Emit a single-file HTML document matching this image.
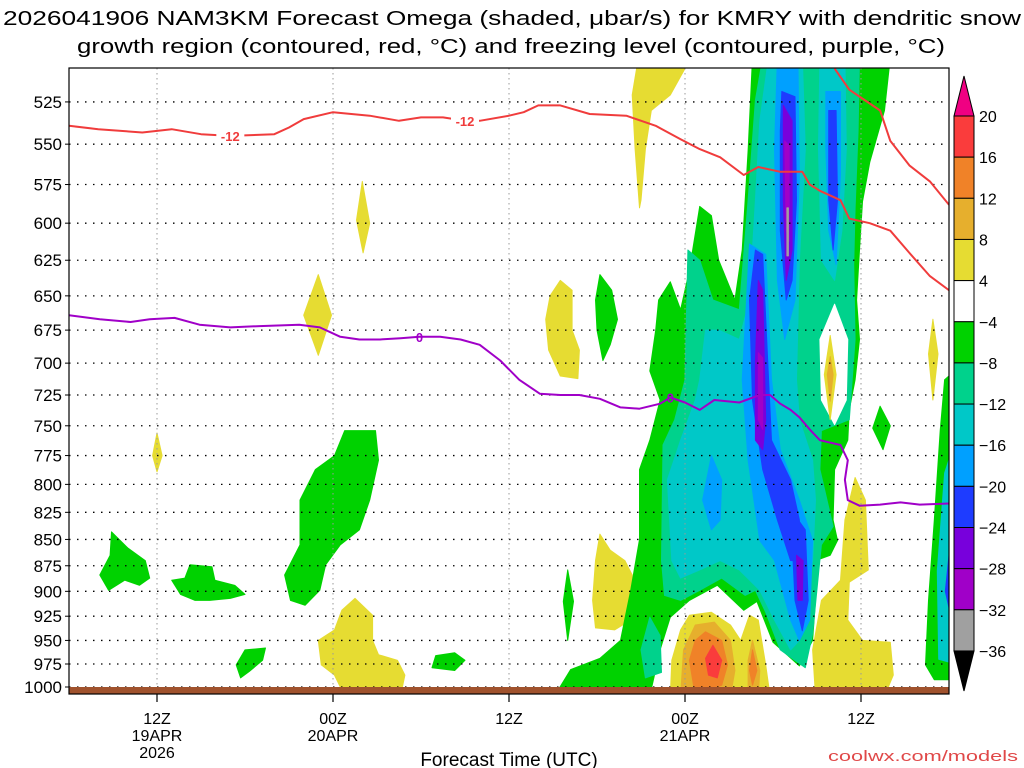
<!DOCTYPE html>
<html><head><meta charset="utf-8"><style>
html,body{margin:0;padding:0;background:#fff;}
svg{display:block;font-family:"Liberation Sans",sans-serif;}
</style></head><body>
<svg id="chart" width="1024" height="768" viewBox="0 0 1024 768" xmlns="http://www.w3.org/2000/svg">
<rect x="0" y="0" width="1024" height="768" fill="#fff"/>
<text x="512" y="25" text-anchor="middle" font-size="20" textLength="1018" lengthAdjust="spacingAndGlyphs">2026041906 NAM3KM Forecast Omega (shaded, μbar/s) for KMRY with dendritic snow</text>
<text x="511" y="53" text-anchor="middle" font-size="20" textLength="868" lengthAdjust="spacingAndGlyphs">growth region (contoured, red, °C) and freezing level (contoured, purple, °C)</text>
<defs><clipPath id="plotclip"><rect x="69" y="68" width="880" height="626"/></clipPath></defs>
<g id="shading" clip-path="url(#plotclip)"></g>
<g id="grid"></g>
<g id="lines" clip-path="url(#plotclip)"></g>
<rect x="69" y="687" width="880" height="7" fill="#a0522d"/>
<rect x="69" y="68" width="880" height="626" fill="none" stroke="#000" stroke-width="1.2"/>
<g id="axes"></g>
<g id="colorbar"></g>
<text x="509" y="766" text-anchor="middle" font-size="19">Forecast Time (UTC)</text>
<text x="1018" y="761" text-anchor="end" font-size="15" fill="#e04848" textLength="190" lengthAdjust="spacingAndGlyphs">coolwx.com/models</text>
</svg>
<script>
// ---- data ----
const pressureTicks = [525,550,575,600,625,650,675,700,725,750,775,800,825,850,875,900,925,950,975,1000];
const timeTickHours = [6,18,30,42,54];
const timeTickLine1 = ["12Z","00Z","12Z","00Z","12Z"];
const timeTickLine2 = ["19APR","20APR","","21APR",""];
const timeTickLine3 = ["2026","","","",""];
const colorLevels = [20,16,12,8,4,-4,-8,-12,-16,-20,-24,-28,-32,-36];
const colorFills = ["#fa3c3c","#f08228","#e6af2d","#e6dc32","#ffffff","#00d200","#00d28c","#00c8c8","#00a0ff","#1e3cff","#7800dc","#a000c8","#a0a0a0"];

const redHours = [0,2,5,7,9,11,14,15,16,18,20.5,22.5,24,25.5,27,28,30,31,32,33.5,35.5,38,40,41.7,43,44.4,46,47,48.5,50,50.5,51.2,52.6,53.2,54.6,56,57.3,58.7,60];
const redPress = [539,541,543,541,544,545,544,540,535,531,533,536,534,534,536,536,533,531,527,527,532,533,539,547,553,558,569,564,567,567,575,579,585,597,600,605,620,636,646];
const red2Hours = [52.2,53.2,55.3,56,57.3,58.7,60];
const red2Press = [506,518,530,548,563,573,588];
const purpHours = [0,2.1,4.2,5.5,7.2,8.9,11,13,15.7,17.1,18.5,19.8,21.2,22.6,23.9,25.3,26.7,28,29.4,30.7,32.1,33.5,34.8,36.2,37.6,38.9,40.3,41,42,43,44,45.7,47.1,47.8,48.5,49.2,49.8,50.5,51.2,52.6,53.1,52.9,53.1,53.9,55.3,56.7,58,60];
const purpPress = [664,667,669,667,666,671,673,672,671,673,680,682,682,681,680,680,682,686,698,713,724,725,725,728,735,736,732,727,731,737,729,731,725,725,732,737,743,753,762,766,779,796,814,819,818,816,818,817];
const redLabels = [[11,545],[27,536]];
const purpLabels = [[23.9,680],[41,727]];

// shaded regions: [level fill index, [[hour, hPa], ...]]
const regions = [
 [3,[[38.7,506],[42,506],[41,521],[39.7,530],[39.3,553],[39,585],[38.9,590],[38.6,553],[38.4,521]]],
 [3,[[20,573],[20.5,600],[20.05,620],[19.6,598]]],
 [3,[[17,635],[17.9,664],[17,694],[16,664]]],
 [3,[[33.5,639],[34.3,646],[34.3,675],[34.8,690],[34.7,712],[33.5,710],[32.7,690],[32.5,667],[32.8,650]]],
 [3,[[6,756],[6.35,775],[6,789],[5.7,775]]],
 [3,[[19.5,907],[20.7,924],[20.7,950],[21.1,965],[22.4,971],[22.9,987],[22.6,1010],[18.8,1010],[18.1,987],[17.2,976],[17,950],[18.1,939],[18.6,919]]],
 [3,[[36.2,845],[36.9,860],[37.9,870],[38.4,884],[38.3,929],[37.2,939],[35.9,937],[35.7,909],[35.9,870]]],
 [3,[[53.6,794],[54.3,814],[54.5,879],[53.2,891],[53.1,929],[54.1,950],[56,952],[56.2,987],[55.6,1010],[50.9,1010],[50.7,960],[51.3,909],[52.6,889],[52.9,832]]],
 [3,[[58.9,667],[59.25,693],[58.9,729],[58.6,693]]],
 [5,[[2.9,843],[4,858],[5.2,870],[5.5,887],[4.8,894],[3.8,889],[2.7,899],[2.1,884],[2.8,865]]],
 [5,[[8.25,874],[9.75,876],[9.95,889],[11.3,894],[12,903],[11,907],[9.6,909],[8.6,909],[7.6,903],[7,889],[7.9,887]]],
 [5,[[18.8,754],[20.9,754],[21.1,779],[20.5,814],[19.8,841],[18.5,855],[17.5,874],[17.1,899],[16.1,914],[15.1,909],[14.7,884],[15.75,855],[15.75,814],[16.8,787],[18.1,775]]],
 [5,[[12,960],[13.4,958],[13.2,971],[12.3,983],[11.7,990],[11.4,976]]],
 [5,[[25,966],[26.3,963],[27,971],[26.3,982],[24.75,979]]],
 [5,[[34,879],[34.4,910],[34,950],[33.7,910]]],
 [5,[[36.2,635],[37,646],[37.4,667],[36.9,686],[36.4,698],[36,675],[35.9,653]]],
 [5,[[55.3,734],[56,750],[55.5,770],[54.8,752]]],
 [5,[[59.7,713],[60.5,705],[60.5,992],[59,992],[58.4,976],[58.6,909],[59,832],[59.4,754]]],
 [7,[[60.5,760],[60.5,975],[59.3,970],[59.2,880],[59.7,790]]],
 [9,[[60.5,800],[60.5,950],[59.75,900]]],
 // main omega column
 [5,[[46.6,500],[56,500],[55.6,530],[54.6,561],[54.1,586],[53.9,618],[53.7,653],[53.9,682],[53.6,713],[53.2,737],[53.1,762],[52.2,787],[52.1,832],[52.4,851],[51.9,865],[50.9,870],[50.9,909],[50.7,950],[49.8,977],[48,952],[46.9,910],[46,919],[44.2,894],[42.3,909],[41,926],[40.3,960],[39.6,1010],[33.1,1010],[34.2,981],[36.2,969],[37.6,950],[38.3,899],[38.9,850],[38.9,787],[39.6,762],[40.3,729],[39.6,706],[40,675],[40.2,653],[41,640],[41.7,660],[42.3,632],[43,589],[43.8,595],[44.3,625],[45.4,653],[45.9,618],[46.3,554]]],
 [6,[[47.3,500],[53.9,500],[53.8,542],[53.6,590],[53.5,628],[53.6,682],[53.2,745],[51.3,754],[51.2,787],[52.1,838],[51.3,855],[50.7,943],[50.2,979],[48.5,960],[47.5,921],[46.8,899],[46.1,904],[44.5,887],[43,899],[41.7,909],[40.6,904],[40.4,870],[40.5,766],[41.3,745],[42,713],[42.2,618],[43,625],[43.9,653],[45.7,660],[46.3,585],[46.8,524]]],
 [6,[[39.6,926],[40.3,945],[40.4,984],[39.3,990],[39,960]]],
 [4,[[52.2,656],[53.1,682],[53,729],[52.2,749],[51.3,729],[51.2,682]]],
 [3,[[51.9,679],[52.3,709],[51.9,745],[51.5,709]]],
 [2,[[51.9,695],[52.1,709],[51.9,730],[51.7,709]]],
 [7,[[47.7,500],[50,500],[50.2,553],[49.8,625],[49.6,713],[49.8,745],[50.7,779],[50.9,814],[50.7,870],[49.8,950],[49.2,960],[48.1,929],[47.1,899],[45.7,879],[44.4,870],[43,879],[41.7,887],[41.1,870],[40.8,796],[41.7,762],[42.7,729],[43,713],[43.4,675],[44.3,675],[45.7,682],[46.4,653],[46.8,585],[47.1,536]]],
 [7,[[51.2,500],[52.9,500],[53,553],[52.7,605],[52.2,639],[51.3,625],[51.1,553]]],
 [8,[[48.3,500],[49.7,500],[49.8,569],[49.5,653],[48.8,682],[48.3,639],[48.1,553]]],
 [8,[[51.6,519],[52.6,519],[52.6,569],[52.3,628],[51.8,605],[51.6,553]]],
 [8,[[46.4,614],[47.5,621],[47.9,713],[48.5,770],[49.8,814],[50.7,851],[50.5,929],[49.8,950],[49.2,929],[48.1,870],[47.1,851],[46.3,779],[45.9,713]]],
 [8,[[43.8,775],[44.5,796],[44.4,832],[43.8,841],[43.2,814]]],
 [9,[[48.6,519],[49.5,522],[49.6,585],[49.3,639],[48.9,653],[48.5,605],[48.5,542]]],
 [9,[[51.8,530],[52.3,530],[52.4,585],[52.1,618],[51.8,585]]],
 [9,[[46.8,618],[47.3,621],[47.7,713],[47.9,762],[49.2,796],[49.8,832],[49.8,870],[49.2,870],[48.3,832],[47.3,787],[46.6,729],[46.4,653]]],
 [9,[[49.5,828],[50.2,841],[50.4,909],[50,940],[49.5,909],[49.3,851]]],
 [10,[[48.7,527],[49.3,536],[49.3,618],[48.9,639],[48.7,585]]],
 [10,[[47,639],[47.3,646],[47.5,745],[47.3,770],[46.8,762],[46.8,699]]],
 [10,[[49.6,865],[50.05,870],[50,909],[49.7,909]]],
 [11,[[48.8,548],[49.1,551],[49.1,612],[48.9,605]]],
 [11,[[47,692],[47.3,696],[47.3,753],[47,745]]],
 [12,[[48.95,590],[49.05,590],[49.05,622],[48.95,622]]],
 // low-level ascent/descent blob near 00Z 21APR
 [3,[[42.3,924],[43.8,921],[45.1,934],[45.8,950],[46.4,924],[47,929],[47.5,976],[47.8,1010],[41,1010],[41.1,971],[41.7,939]]],
 [2,[[42.7,934],[44,931],[45.1,950],[45.4,982],[45.1,1010],[41.7,1010],[41.9,960]]],
 [2,[[46.6,950],[47.1,982],[47,1010],[46.3,1010],[46.3,971]]],
 [1,[[43.4,941],[44.5,950],[44.9,976],[44.5,998],[42.7,1010],[42.3,971],[42.7,950]]],
 [1,[[46.6,960],[46.9,982],[46.6,998],[46.4,982]]],
 [0,[[43.9,955],[44.5,971],[44.2,990],[43.6,987],[43.4,969]]]
];

// ---- scales ----
const X0=69, X1=949, Y_TOP=68, Y_BOT=694;
function xScale(h){ return X0 + h*(X1-X0)/60; }
function yScale(p){ return 687 - 908*Math.log(1000/p); }
const NS="http://www.w3.org/2000/svg";
function mk(tag, attrs, parent){ const e=document.createElementNS(NS,tag); for(const k in attrs) e.setAttribute(k,attrs[k]); parent.appendChild(e); return e; }

// shading
const shading=document.getElementById('shading');
regions.forEach((r,i)=>{
  const pts=r[1].map(q=>xScale(q[0]).toFixed(1)+","+yScale(q[1]).toFixed(1)).join(" ");
  const el=mk('polygon',{points:pts,fill:colorFills[r[0]],stroke:colorFills[r[0]],'stroke-width':1,'stroke-linejoin':'round'},shading);
  
  
});

// grid
const grid=document.getElementById('grid');
pressureTicks.forEach(p=>{
  const y=yScale(p);
  const el=mk('line',{x1:X0,x2:X1,y1:y,y2:y,stroke:'#000','stroke-width':1.3,'stroke-dasharray':'1.5 6.5'},grid);
  
  
});
timeTickHours.forEach(h=>{
  const x=xScale(h);
  const el=mk('line',{x1:x,x2:x,y1:Y_TOP,y2:Y_BOT,stroke:'#999','stroke-width':1,'stroke-dasharray':'1.5 3.5'},grid);
  
  
});

// lines
const lines=document.getElementById('lines');
function drawLine(hs,ps,color,name){
  const d=hs.map((h,i)=>(i?"L":"M")+xScale(h).toFixed(1)+" "+yScale(ps[i]).toFixed(1)).join(" ");
  const el=mk('path',{d:d,fill:'none',stroke:color,'stroke-width':2,'stroke-linejoin':'round'},lines);
  
  
}
drawLine(redHours,redPress,'#f03c3c','dgz-minus12-contour');
drawLine(red2Hours,red2Press,'#f03c3c','dgz-minus12-contour-upper');
drawLine(purpHours,purpPress,'#a000c8','freezing-level-contour');
redLabels.forEach(l=>{
  const x=xScale(l[0]), y=yScale(l[1]);
  mk('rect',{x:x-14,y:y-7,width:28,height:14,fill:'#fff'},lines);
  const t=mk('text',{x:x,y:y+5,'text-anchor':'middle','font-size':13,'font-weight':'bold',fill:'#f03c3c'},lines);
  t.textContent='-12';
  
  
});
purpLabels.forEach(l=>{
  const x=xScale(l[0]), y=yScale(l[1]);
  const t=mk('text',{x:x,y:y+5,'text-anchor':'middle','font-size':13,'font-weight':'bold',fill:'#a000c8'},lines);
  t.textContent='0';
  
  
});

// axes
const axes=document.getElementById('axes');
pressureTicks.forEach(p=>{
  const y=yScale(p);
  const t=mk('text',{x:62,y:y+6,'text-anchor':'end','font-size':17},axes);
  t.textContent=String(p);
  
  
  mk('line',{x1:X0-4,x2:X0,y1:y,y2:y,stroke:'#000'},axes);
});
timeTickHours.forEach((h,i)=>{
  const x=xScale(h);
  mk('line',{x1:x,x2:x,y1:Y_BOT,y2:Y_BOT+8,stroke:'#000','stroke-width':1.2},axes);
  [timeTickLine1[i],timeTickLine2[i],timeTickLine3[i]].forEach((s,j)=>{
    if(!s) return;
    const t=mk('text',{x:x,y:724+j*17,'text-anchor':'middle','font-size':16},axes);
    t.textContent=s;
    
    
  });
});

// colorbar
const cb=document.getElementById('colorbar');
const CBX=954, CBW=20, CBT=116, STEP=41.15;
mk('polygon',{points:`${CBX},${CBT} ${CBX+CBW},${CBT} ${CBX+CBW/2},${CBT-40}`,fill:'#f00082',stroke:'#000'},cb);
colorFills.forEach((c,i)=>{
  const el=mk('rect',{x:CBX,y:CBT+i*STEP,width:CBW,height:STEP,fill:c,stroke:'#000','stroke-width':1},cb);
  
  
});
const cbBot=CBT+colorFills.length*STEP;
mk('polygon',{points:`${CBX},${cbBot} ${CBX+CBW},${cbBot} ${CBX+CBW/2},${cbBot+40}`,fill:'#000',stroke:'#000'},cb);
colorLevels.forEach((v,i)=>{
  const t=mk('text',{x:979,y:CBT+i*STEP+6,'font-size':16},cb);
  t.textContent=(v<0?'\u2212':'')+Math.abs(v);
  
  
});
</script>
</body></html>
